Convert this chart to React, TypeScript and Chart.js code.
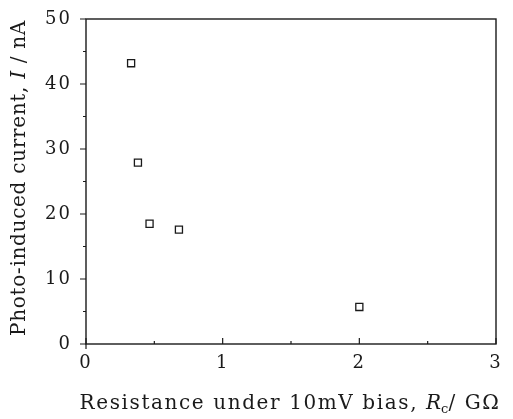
import React, { useEffect, useRef } from "react";
import { Chart, registerables } from "chart.js";

Chart.register(...registerables);

const resistance = [0.33, 0.38, 0.465, 0.68, 2.0];
const current = [43.2, 27.9, 18.5, 17.6, 5.7];
const xTicks = [0, 1, 2, 3];
const yTicks = [0, 10, 20, 30, 40, 50];
const xMinor = [0.5, 1.5, 2.5];
const yMinor = [5, 15, 25, 35, 45];

const FONT = "'DejaVu Serif', 'Liberation Serif', serif";
const INK = "#1a1a1a";

type Seg = { t: string; f: string; dy?: number; sp?: number };

function segWidth(ctx: CanvasRenderingContext2D, s: Seg, spacing: number) {
  ctx.font = s.f;
  const sp = s.sp ?? spacing;
  let w = 0;
  for (const ch of Array.from(s.t)) w += ctx.measureText(ch).width + sp;
  return w;
}

function drawSegs(ctx: CanvasRenderingContext2D, segs: Seg[], cx: number, cy: number, spacing: number) {
  let total = 0;
  for (const s of segs) total += segWidth(ctx, s, spacing);
  let x = cx - total / 2;
  for (const s of segs) {
    ctx.font = s.f;
    const sp = s.sp ?? spacing;
    for (const ch of Array.from(s.t)) {
      ctx.fillText(ch, x, cy + (s.dy || 0));
      x += ctx.measureText(ch).width + sp;
    }
  }
}

const spacingPlugin = {
  id: "spacing",
  beforeDraw(chart: any) {
    (chart.ctx as any).letterSpacing = "2px";
  },
  afterDraw(chart: any) {
    (chart.ctx as any).letterSpacing = "0px";
  },
};

const decorPlugin = {
  id: "decor",
  afterDraw(chart: any) {
    const { ctx, chartArea, scales } = chart;
    const xs = scales.x;
    const ys = scales.y;
    ctx.save();
    (ctx as any).letterSpacing = "0px";
    ctx.strokeStyle = INK;
    ctx.lineWidth = 1.4;
    ctx.strokeRect(chartArea.left, chartArea.top, chartArea.right - chartArea.left, chartArea.bottom - chartArea.top);
    ctx.lineWidth = 1.2;
    ctx.beginPath();
    for (const v of yTicks) {
      const p = ys.getPixelForValue(v);
      ctx.moveTo(chartArea.left - 6, p);
      ctx.lineTo(chartArea.left, p);
    }
    for (const v of yMinor) {
      const p = ys.getPixelForValue(v);
      ctx.moveTo(chartArea.left - 3, p);
      ctx.lineTo(chartArea.left, p);
    }
    for (const v of xTicks) {
      const p = xs.getPixelForValue(v);
      ctx.moveTo(p, chartArea.bottom - 6);
      ctx.lineTo(p, chartArea.bottom + (v === 0 ? 5 : 0));
    }
    for (const v of xMinor) {
      const p = xs.getPixelForValue(v);
      ctx.moveTo(p, chartArea.bottom - 3);
      ctx.lineTo(p, chartArea.bottom);
    }
    ctx.stroke();

    ctx.fillStyle = INK;
    ctx.textBaseline = "alphabetic";
    ctx.textAlign = "left";
    const reg = `20px ${FONT}`;
    const ital = `italic 20px ${FONT}`;
    const sub = `13px ${FONT}`;
    drawSegs(
      ctx,
      [
        { t: "Resistance under 10mV bias, ", f: reg },
        { t: "R", f: ital, sp: 0 },
        { t: "c", f: sub, dy: 4, sp: 0 },
        { t: "/ GΩ", f: reg },
      ],
      290,
      409,
      1.6
    );
    ctx.save();
    ctx.translate(25, 178);
    ctx.rotate(-Math.PI / 2);
    drawSegs(
      ctx,
      [
        { t: "Photo-induced current, ", f: reg },
        { t: "I", f: ital },
        { t: " / nA", f: reg },
      ],
      0,
      0,
      0.7
    );
    ctx.restore();
    ctx.restore();
  },
};

export default function App() {
  const ref = useRef<HTMLCanvasElement | null>(null);
  useEffect(() => {
    document.body.style.margin = "0";
    const canvas = ref.current!;
    const chart = new Chart(canvas, {
      type: "scatter",
      data: {
        datasets: [
          {
            data: resistance.map((x, i) => ({ x, y: current[i] })),
            pointStyle: "rect",
            pointRadius: 5,
            pointHoverRadius: 5,
            borderColor: INK,
            borderWidth: 1.3,
            backgroundColor: "#ffffff",
          },
          {
            data: resistance.map((x, i) => ({ x, y: current[i] })),
            pointStyle: "circle",
            pointRadius: 0.9,
            borderWidth: 0,
            backgroundColor: "#333",
          },
        ],
      },
      options: {
        animation: false,
        responsive: false,
        layout: { padding: { top: 19, right: 17, left: 0, bottom: 0 } },
        plugins: { legend: { display: false }, tooltip: { enabled: false } },
        scales: {
          x: {
            type: "linear",
            min: 0,
            max: 3,
            ticks: { stepSize: 1, color: INK, font: { family: FONT, size: 18 }, padding: 1 },
            grid: { display: false },
            border: { display: false },
            afterFit: (s: any) => {
              s.height = 75;
            },
          },
          y: {
            type: "linear",
            min: 0,
            max: 50,
            ticks: { stepSize: 10, color: INK, font: { family: FONT, size: 18 }, padding: 6 },
            grid: { display: false },
            border: { display: false },
            afterFit: (s: any) => {
              s.width = 86;
            },
          },
        },
      },
      plugins: [spacingPlugin, decorPlugin],
    });
    return () => chart.destroy();
  }, []);
  return <canvas ref={ref} width={513} height={419} style={{ display: "block" }} />;
}
